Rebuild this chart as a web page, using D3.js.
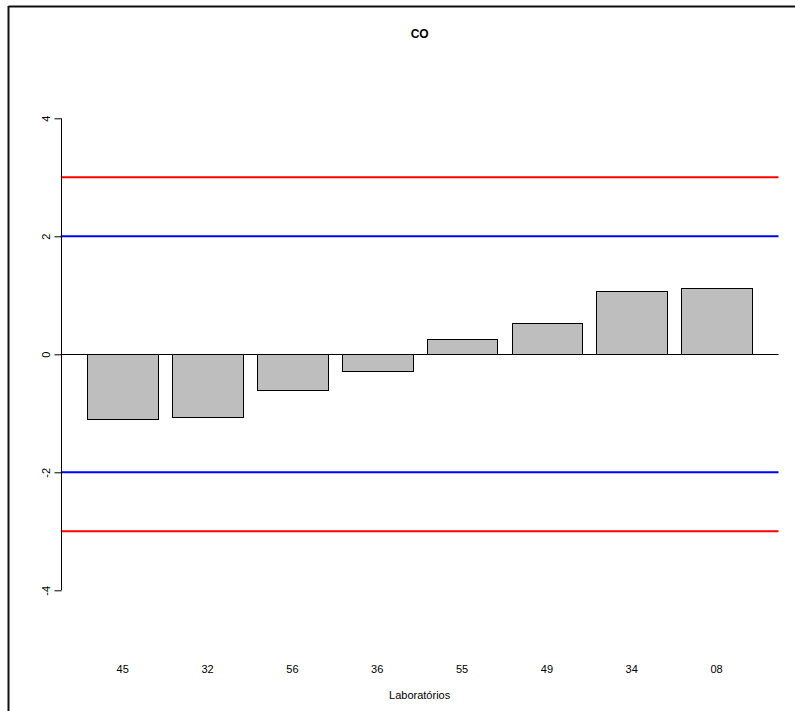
<!DOCTYPE html>
<html>
<head>
<meta charset="utf-8">
<script src="https://cdn.jsdelivr.net/npm/d3@7"></script>
<style>
  html, body { margin: 0; padding: 0; background: #fff; }
  svg { display: block; }
  text { font-family: "Liberation Sans", Arial, sans-serif; fill: #000; }
</style>
</head>
<body>
<script>
const labs = ["45", "32", "56", "36", "55", "49", "34", "08"];
const zvals = [-1.10, -1.06, -0.60, -0.28, 0.26, 0.53, 1.07, 1.13];
const yTicks = [-4, -2, 0, 2, 4];
const refLines = [
  { v: 3, color: "#ff0000" }, { v: -3, color: "#ff0000" },
  { v: 2, color: "#0000ff" }, { v: -2, color: "#0000ff" }
];
const title = "CO";
const xTitle = "Laboratórios";

const W = 795, H = 711;
const svg = d3.select("body").append("svg").attr("width", W).attr("height", H);

// frame border (from surrounding document)
svg.append("line").attr("x1", 8.5).attr("x2", W).attr("y1", 6.5).attr("y2", 6.5)
  .attr("stroke", "#111").attr("stroke-width", 2);
svg.append("line").attr("x1", 8.5).attr("x2", 8.5).attr("y1", 6).attr("y2", H)
  .attr("stroke", "#111").attr("stroke-width", 2);

const n = labs.length;
const space = 0.2, bw = 1;
const xmin = space, xmax = n * (bw + space);
const ext = 0.04 * (xmax - xmin);
const x = d3.scaleLinear().domain([xmin - ext, xmax + ext]).range([60.8, 778.5]);
const y = d3.scaleLinear().domain([-5, 5]).range([649.3, 59.3]);

const left = i => space + i * (bw + space);
const ry = v => Math.round(y(v));

// bars
svg.selectAll("rect.bar").data(zvals).enter().append("rect")
  .attr("class", "bar")
  .attr("x", (d, i) => Math.round(x(left(i))) + 0.5)
  .attr("width", (d, i) => Math.round(x(left(i) + bw)) - Math.round(x(left(i))))
  .attr("y", d => ry(Math.max(0, d)) + 0.5)
  .attr("height", d => ry(Math.min(0, d)) - ry(Math.max(0, d)))
  .attr("fill", "#bebebe").attr("stroke", "#000").attr("stroke-width", 1);

// reference lines
const [rx0, rx1] = x.range();
svg.selectAll("line.ref").data(refLines).enter().append("line")
  .attr("x1", rx0).attr("x2", rx1)
  .attr("y1", d => y(d.v)).attr("y2", d => y(d.v))
  .attr("stroke", d => d.color).attr("stroke-width", 2);

// zero line
svg.append("line").attr("x1", rx0).attr("x2", rx1)
  .attr("y1", ry(0) + 0.5).attr("y2", ry(0) + 0.5)
  .attr("stroke", "#000").attr("stroke-width", 1);

// y axis
const ax = svg.append("g").attr("transform", `translate(${61.5},0)`);
ax.call(d3.axisLeft(y).tickValues(yTicks).tickSize(7).tickFormat(d3.format("d")));
ax.select(".domain").attr("d", `M0,${y(-4)}V${y(4)}`).attr("stroke", "#000");
ax.selectAll(".tick line").attr("stroke", "#000");
ax.selectAll(".tick text")
  .attr("x", null).attr("dy", null)
  .attr("font-size", 11)
  .attr("text-anchor", "middle")
  .attr("transform", "translate(-15,0) rotate(-90)")
  .attr("dy", "0.35em")
  .text(d => d < 0 ? "-" + Math.abs(d) : d);
ax.attr("font-family", null);

// x labels
svg.selectAll("text.xl").data(labs).enter().append("text")
  .attr("class", "xl")
  .attr("x", (d, i) => x(left(i) + bw / 2))
  .attr("y", 673)
  .attr("text-anchor", "middle")
  .attr("font-size", 11)
  .text(d => d);

svg.append("text").attr("x", (rx0 + rx1) / 2).attr("y", 699)
  .attr("text-anchor", "middle").attr("font-size", 11).text(xTitle);

svg.append("text").attr("x", (rx0 + rx1) / 2).attr("y", 38)
  .attr("text-anchor", "middle").attr("font-size", 12).attr("font-weight", "bold").text(title);
</script>
</body>
</html>
